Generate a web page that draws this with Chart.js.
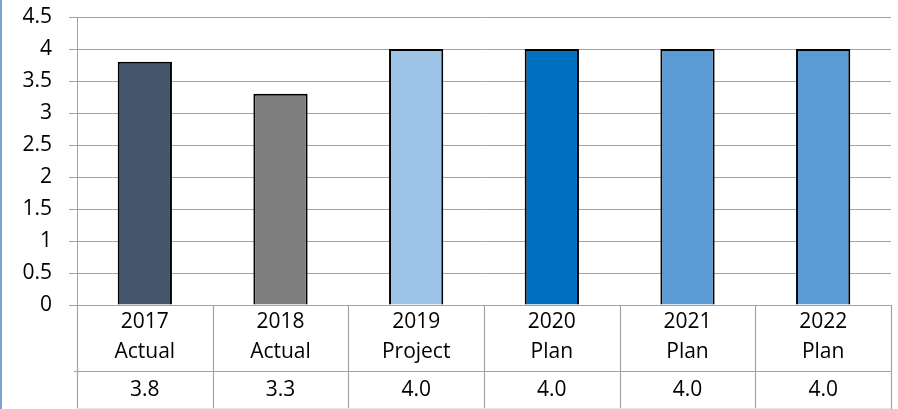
<!DOCTYPE html>
<html>
<head>
<meta charset="utf-8">
<script src="https://cdn.jsdelivr.net/npm/chart.js@4"></script>
<style>
  html, body { margin: 0; padding: 0; background: #fff; }
  #wrap { width: 898px; height: 409px; position: relative; }
</style>
</head>
<body>
<div id="wrap"><canvas id="c"></canvas></div>
<script>
// Category labels (two lines each), values and bar colours
const years = ['2017', '2018', '2019', '2020', '2021', '2022'];
const stages = ['Actual', 'Actual', 'Project', 'Plan', 'Plan', 'Plan'];
const values = [3.8, 3.3, 4.0, 4.0, 4.0, 4.0];
const barColors = ['#44546A', '#7F7F7F', '#9DC3E6', '#0070C0', '#5B9BD5', '#5B9BD5'];
const yTicks = [0, 0.5, 1, 1.5, 2, 2.5, 3, 3.5, 4, 4.5];

const FONT = '"Open Sans", "DejaVu Sans", sans-serif';
const GRID = '#a3a3a3';

const labels = years.map((y, i) => [y, stages[i]]);

// Data table under the axis: cell borders and the value row
const tablePlugin = {
  id: 'dataTable',
  afterDraw(chart) {
    const ctx = chart.ctx;
    const area = chart.chartArea;
    const x = chart.scales.x;
    const h = chart.height;
    const n = labels.length;
    const step = (area.right - area.left) / n;
    const rowLine = 371;

    ctx.save();
    // left page rule
    ctx.fillStyle = '#7ea1d8';
    ctx.fillRect(0, 0, 2, h);

    ctx.strokeStyle = GRID;
    ctx.lineWidth = 1.2;
    ctx.beginPath();
    for (let i = 0; i <= n; i++) {
      const px = Math.round(area.left + i * step) + 0.5;
      ctx.moveTo(px, area.bottom);
      ctx.lineTo(px, h);
    }
    ctx.moveTo(area.left - 3, rowLine + 0.5);
    ctx.lineTo(area.right, rowLine + 0.5);
    ctx.stroke();

    ctx.strokeStyle = '#e6e6e6';
    ctx.lineWidth = 1;
    ctx.beginPath();
    ctx.moveTo(area.left, h - 0.5);
    ctx.lineTo(area.right, h - 0.5);
    ctx.stroke();

    ctx.fillStyle = '#000';
    ctx.font = '21px ' + FONT;
    ctx.textAlign = 'center';
    ctx.textBaseline = 'middle';
    values.forEach((v, i) => {
      ctx.fillText(v.toFixed(1), x.getPixelForValue(i), 390);
    });
    ctx.restore();
  }
};

new Chart(document.getElementById('c'), {
  type: 'bar',
  data: {
    labels: labels,
    datasets: [{
      data: values,
      backgroundColor: barColors,
      borderColor: '#000',
      borderWidth: 2,
      categoryPercentage: 1,
      barPercentage: 0.4
    }]
  },
  options: {
    responsive: true,
    maintainAspectRatio: false,
    animation: false,
    layout: { padding: { top: 17, right: 7, left: 0, bottom: 0 } },
    plugins: { legend: { display: false }, tooltip: { enabled: false } },
    scales: {
      x: {
        grid: { display: false, drawTicks: false },
        border: { display: false },
        ticks: {
          color: '#000',
          font: { family: FONT, size: 21, lineHeight: '30px' },
          padding: 2,
          maxRotation: 0,
          autoSkip: false
        },
        afterFit(scale) { scale.height = 104; }
      },
      y: {
        min: 0,
        max: 4.5,
        afterBuildTicks(scale) { scale.ticks = yTicks.map(v => ({ value: v })); },
        grid: { color: GRID, lineWidth: 1, tickLength: 8, drawTicks: true },
        border: { display: true, color: GRID, width: 1 },
        ticks: {
          color: '#000',
          font: { family: FONT, size: 21 },
          padding: 17,
          callback: v => String(v)
        },
        afterFit(scale) {
          scale.width = 77;
          // the label gap is horizontal only; keep the plot top where the layout padding puts it
          scale.paddingTop = 0;
          scale.paddingBottom = 0;
        }
      }
    }
  },
  plugins: [tablePlugin]
});
</script>
</body>
</html>
